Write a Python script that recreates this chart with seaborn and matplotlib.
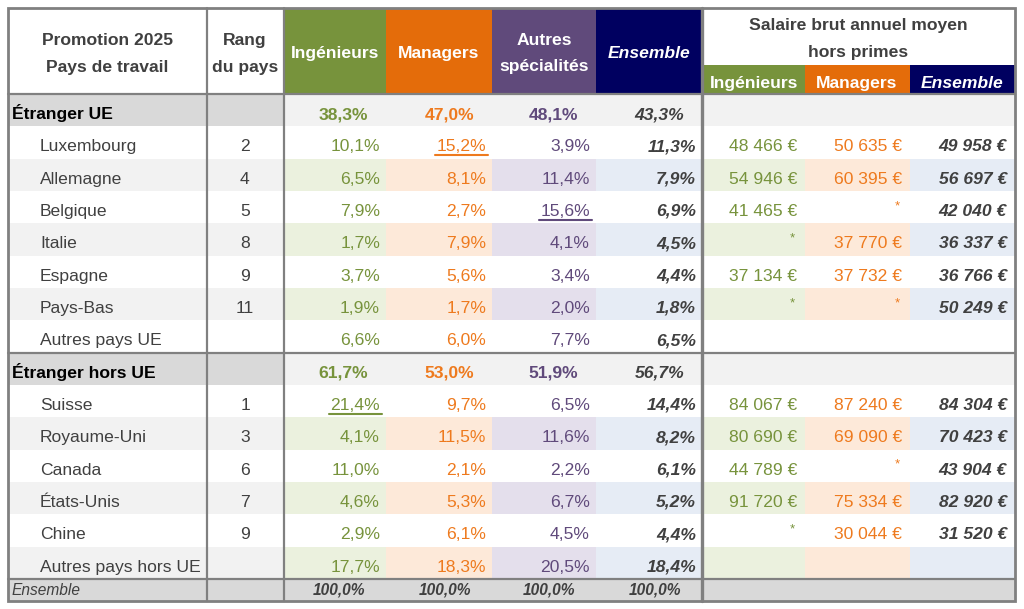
import numpy as np
import pandas as pd
import seaborn as sns
import matplotlib.pyplot as plt
from matplotlib.patches import Rectangle
from matplotlib import font_manager

sns.set_theme(style='white')
installed = {f.name for f in font_manager.fontManager.ttflist}
NARROW = 'Liberation Sans Narrow' in installed
plt.rcParams['font.family'] = ['Liberation Sans Narrow' if NARROW else 'Liberation Sans', 'DejaVu Sans']

countries = ['Étranger UE', 'Luxembourg', 'Allemagne', 'Belgique', 'Italie', 'Espagne', 'Pays-Bas',
             'Autres pays UE', 'Étranger hors UE', 'Suisse', 'Royaume-Uni', 'Canada', 'États-Unis',
             'Chine', 'Autres pays hors UE']
sections = ['Étranger UE', 'Étranger hors UE']
rangs = ['', '2', '4', '5', '8', '9', '11', '', '', '1', '3', '6', '7', '9', '']
pct_ing = [38.3, 10.1, 6.5, 7.9, 1.7, 3.7, 1.9, 6.6, 61.7, 21.4, 4.1, 11.0, 4.6, 2.9, 17.7]
pct_man = [47.0, 15.2, 8.1, 2.7, 7.9, 5.6, 1.7, 6.0, 53.0, 9.7, 11.5, 2.1, 5.3, 6.1, 18.3]
pct_aut = [48.1, 3.9, 11.4, 15.6, 4.1, 3.4, 2.0, 7.7, 51.9, 6.5, 11.6, 2.2, 6.7, 4.5, 20.5]
pct_ens = [43.3, 11.3, 7.9, 6.9, 4.5, 4.4, 1.8, 6.5, 56.7, 14.4, 8.2, 6.1, 5.2, 4.4, 18.4]
sal_ing = [None, 48466, 54946, 41465, '*', 37134, '*', None, None, 84067, 80690, 44789, 91720, '*', None]
sal_man = [None, 50635, 60395, '*', 37770, 37732, '*', None, None, 87240, 69090, '*', 75334, 30044, None]
sal_ens = [None, 49958, 56697, 42040, 36337, 36766, 50249, None, None, 84304, 70423, 43904, 82920, 31520, None]
total_pct = [100.0, 100.0, 100.0, 100.0]

df = pd.DataFrame({'pays': countries, 'rang': rangs, 'ing': pct_ing, 'man': pct_man,
                   'aut': pct_aut, 'ens': pct_ens,
                   's_ing': pd.Series(sal_ing, dtype=object),
                   's_man': pd.Series(sal_man, dtype=object),
                   's_ens': pd.Series(sal_ens, dtype=object)})

GREEN, ORANGE, PURPLE, NAVY = '#77933C', '#E46C0A', '#604A7B', '#000060'
TXT_ORANGE = '#EE7A1E'
LIGHT = {'ing': '#EBF1DE', 'man': '#FDE9D9', 'aut': '#E4DFEC', 'ens': '#E6ECF5'}
DARK = '#404040'
GRID = '#808080'

# layout in pixels
xe = [8, 207, 284, 386, 492, 596, 702, 805, 910, 1015]
top, head_bot, row_h = 8, 94, 32.33
y_tot = head_bot + row_h * len(countries)
bot = 601

if NARROW:
    fs, fs_small = 15.2, 12.6
else:
    fs, fs_small = 12.6, 11.2

fig = plt.figure(figsize=(10.24, 6.09), dpi=100)
ax = fig.add_axes([0, 0, 1, 1])
ax.set_xlim(0, 1024)
ax.set_ylim(609, 0)
ax.axis('off')


def cell(c, r0, r1, color):
    ax.add_patch(Rectangle((xe[c], r0), xe[c + 1] - xe[c], r1 - r0, color=color, lw=0, zorder=1))


def fmt_pct(v):
    return f'{v:.1f}'.replace('.', ',') + '%'


def fmt_eur(v):
    return f'{int(v):,}'.replace(',', ' ') + ' €'


# header
for c, col in zip([2, 3, 4, 5, 6, 7, 8], [GREEN, ORANGE, PURPLE, NAVY, GREEN, ORANGE, NAVY]):
    cell(c, top if c < 6 else 65, head_bot, col)

ax.text(107, 45, 'Promotion 2025', ha='center', va='baseline', fontsize=fs, weight='bold', color=DARK)
ax.text(107, 72, 'Pays de travail', ha='center', va='baseline', fontsize=fs, weight='bold', color=DARK)
ax.text(245, 45, 'Rang', ha='center', va='baseline', fontsize=fs, weight='bold', color=DARK)
ax.text(245, 72, 'du pays', ha='center', va='baseline', fontsize=fs, weight='bold', color=DARK)
ax.text(335, 58, 'Ingénieurs', ha='center', va='baseline', fontsize=fs, weight='bold', color='white')
ax.text(439, 58, 'Managers', ha='center', va='baseline', fontsize=fs, weight='bold', color='white')
ax.text(544, 45, 'Autres', ha='center', va='baseline', fontsize=fs, weight='bold', color='white')
ax.text(544, 71, 'spécialités', ha='center', va='baseline', fontsize=fs, weight='bold', color='white')
ax.text(649, 58, 'Ensemble', ha='center', va='baseline', fontsize=fs, weight='bold', style='italic', color='white')
ax.text(858, 30, 'Salaire brut annuel moyen', ha='center', va='baseline', fontsize=fs, weight='bold', color=DARK)
ax.text(858, 57, 'hors primes', ha='center', va='baseline', fontsize=fs, weight='bold', color=DARK)
ax.text(754, 88, 'Ingénieurs', ha='center', va='baseline', fontsize=fs, weight='bold', color='white')
ax.text(857, 88, 'Managers', ha='center', va='baseline', fontsize=fs, weight='bold', color='white')
ax.text(962, 88, 'Ensemble', ha='center', va='baseline', fontsize=fs, weight='bold', style='italic', color='white')

# best named country per specialty gets underlined
named = df[df['rang'] != '']
best = {k: named[k].idxmax() for k in ['ing', 'man', 'aut']}

pct_cols = [('ing', 2, GREEN), ('man', 3, TXT_ORANGE), ('aut', 4, PURPLE), ('ens', 5, DARK)]
sal_cols = [('s_ing', 6, GREEN, 'ing'), ('s_man', 7, TXT_ORANGE, 'man'), ('s_ens', 8, DARK, 'ens')]

k = 0
for i, row in df.iterrows():
    y0 = head_bot + row_h * i
    y1 = y0 + row_h
    base = y0 + 25
    if row['pays'] in sections:
        k = 0
        for c in range(9):
            cell(c, y0, y1, '#D9D9D9' if c < 2 else '#F2F2F2')
        ax.text(12, base, row['pays'], ha='left', va='baseline', fontsize=fs, weight='bold', color='black')
        for key, c, col in pct_cols:
            ax.text(xe[c + 1] - 18, base, fmt_pct(row[key]), ha='right', va='baseline', fontsize=fs,
                    weight='bold', style='italic' if key == 'ens' else 'normal', color=col)
        continue
    k += 1
    shaded = k % 2 == 0
    if shaded:
        cell(0, y0, y1, '#F2F2F2')
        cell(1, y0, y1, '#F2F2F2')
        for key, c, col in pct_cols:
            cell(c, y0, y1, LIGHT[key])
        for key, c, col, lk in sal_cols:
            cell(c, y0, y1, LIGHT[lk])
    ax.text(40, base, row['pays'], ha='left', va='baseline', fontsize=fs, color=DARK)
    ax.text(245, base, row['rang'], ha='center', va='baseline', fontsize=fs, color=DARK)
    for key, c, col in pct_cols:
        xr = xe[c + 1] - 6
        ax.text(xr, base, fmt_pct(row[key]), ha='right', va='baseline', fontsize=fs, color=col,
                weight='bold' if key == 'ens' else 'normal', style='italic' if key == 'ens' else 'normal')
        if best.get(key) == i:
            w = 58 if NARROW else 51
            ax.plot([xr - w, xr + 2], [base + 4, base + 4], color=col, lw=1.5, zorder=3)
    for key, c, col, lk in sal_cols:
        v = row[key]
        if v is None:
            continue
        xr = xe[c + 1] - 8
        if v == '*':
            ax.text(xr - 2, y0 + 18, '*', ha='right', va='baseline', fontsize=fs_small * 0.85, color=col)
        else:
            ax.text(xr, base, fmt_eur(v), ha='right', va='baseline', fontsize=fs, color=col,
                    weight='bold' if key == 's_ens' else 'normal', style='italic' if key == 's_ens' else 'normal')

# total row
for c in range(9):
    cell(c, y_tot, bot, '#D9D9D9')
ax.text(12, y_tot + 16, 'Ensemble', ha='left', va='baseline', fontsize=fs_small, style='italic', color=DARK)
for v, c in zip(total_pct, [2, 3, 4, 5]):
    ax.text(xe[c + 1] - 21, y_tot + 16, fmt_pct(v), ha='right', va='baseline', fontsize=fs_small,
            weight='bold', style='italic', color=DARK)

# grid lines
lw = 1.6
ax.add_patch(Rectangle((xe[0], top), xe[-1] - xe[0], bot - top, fill=False, ec=GRID, lw=2, zorder=5))
for x in [207, 284]:
    ax.plot([x, x], [top, bot], color=GRID, lw=lw, zorder=5)
ax.plot([702, 702], [top, bot], color=GRID, lw=2.4, zorder=5)
for y in [head_bot, head_bot + row_h * 8, y_tot]:
    ax.plot([xe[0], xe[-1]], [y, y], color=GRID, lw=lw, zorder=5)

fig.savefig('out.png', dpi=100)
